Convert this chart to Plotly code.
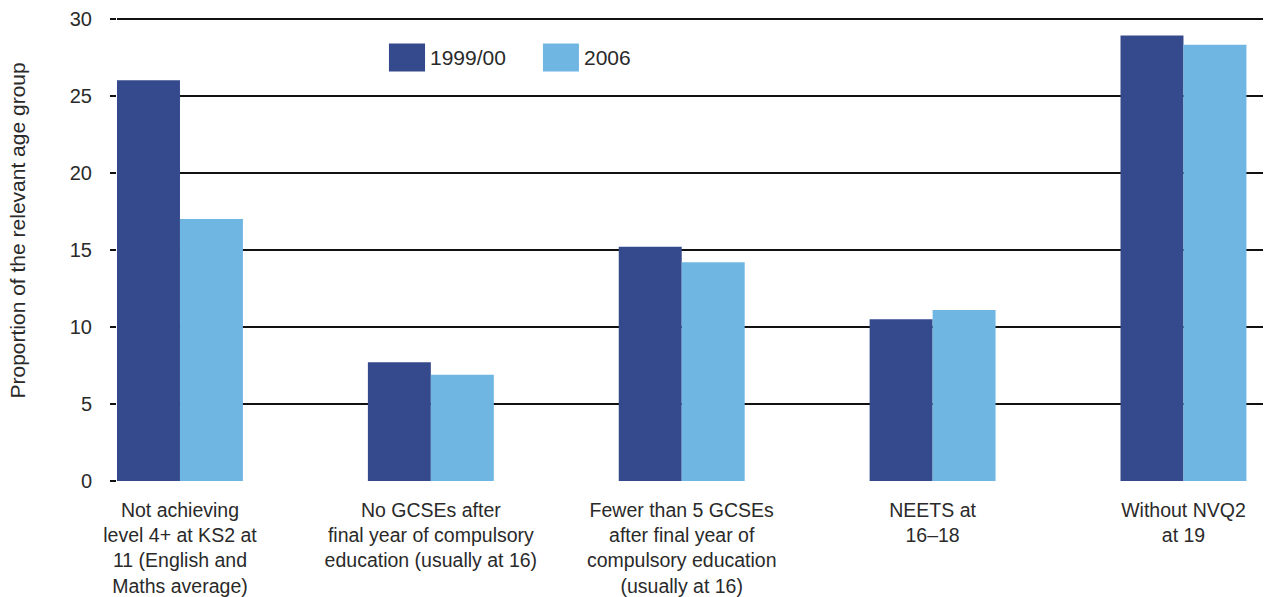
import plotly.graph_objects as go

categories = [
    "Not achieving<br>level 4+ at KS2 at<br>11 (English and<br>Maths average)",
    "No GCSEs after<br>final year of compulsory<br>education (usually at 16)",
    "Fewer than 5 GCSEs<br>after final year of<br>compulsory education<br>(usually at 16)",
    "NEETS at<br>16–18",
    "Without NVQ2<br>at 19",
]
series_names = ["1999/00", "2006"]
values_1999 = [26.0, 7.7, 15.2, 10.5, 28.9]
values_2006 = [17.0, 6.9, 14.2, 11.1, 28.3]
y_ticks = [0, 5, 10, 15, 20, 25, 30]
y_title = "Proportion of the relevant age group"

DARK = "#354a8c"
LIGHT = "#6fb7e2"
FONT = "Liberation Sans"
TXT = "#2a2a2a"

fig = go.Figure()
fig.add_trace(go.Bar(x=list(range(len(categories))), y=values_1999, name=series_names[0],
                     marker=dict(color=DARK, line=dict(width=0)), showlegend=False))
fig.add_trace(go.Bar(x=list(range(len(categories))), y=values_2006, name=series_names[1],
                     marker=dict(color=LIGHT, line=dict(width=0)), showlegend=False))

fig.update_layout(
    width=1272, height=597,
    margin=dict(l=117, r=9, t=14.4, b=115.5),
    paper_bgcolor="white", plot_bgcolor="white",
    barmode="group", bargap=0.498, bargroupgap=0,
    font=dict(family=FONT, color=TXT, size=20),
    xaxis=dict(
        tickmode="array", tickvals=list(range(len(categories))), ticktext=categories,
        range=[-0.251, 4.317], showgrid=False, zeroline=False, showline=False,
        ticks="", tickfont=dict(size=19.5, color=TXT), ticklabelstandoff=15,
        automargin=False,
    ),
    yaxis=dict(
        range=[0, 30.3], tickvals=y_ticks, showgrid=True, gridcolor="#111111", gridwidth=1.6,
        zeroline=False, showline=False, ticks="outside", ticklen=6, tickcolor="#111111",
        tickwidth=1.6, tickfont=dict(size=20, color=TXT), ticklabelstandoff=14,
        automargin=False,
    ),
)

# Y-axis title placed as rotated annotation
fig.add_annotation(xref="paper", yref="paper", x=-0.0864, y=0.5363, text=y_title,
                   textangle=-90, showarrow=False, xanchor="center", yanchor="middle",
                   font=dict(size=21, color=TXT, family=FONT))

# Legend drawn as swatches + labels
legend_items = [(0.2373, 0.2688, DARK, series_names[0]), (0.3717, 0.4031, LIGHT, series_names[1])]
for x0, x1, col, name in legend_items:
    fig.add_shape(type="rect", xref="paper", yref="paper", x0=x0, x1=x1, y0=0.8767, y1=0.9366,
                  fillcolor=col, line=dict(width=0))
    fig.add_annotation(xref="paper", yref="paper", x=x1 + 0.003, y=0.9066, text=name,
                       showarrow=False, xanchor="left", yanchor="middle",
                       font=dict(size=21, color=TXT, family=FONT))

fig.write_html(
    "out.html",
    config={"displayModeBar": False},
    post_script="document.body.style.margin='0';document.body.style.overflow='hidden';",
)
